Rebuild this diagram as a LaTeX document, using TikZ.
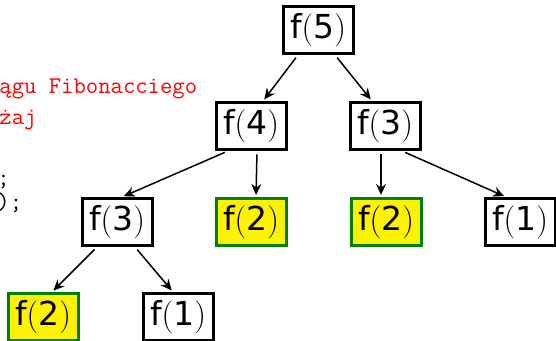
\documentclass[tikz,border=0pt]{standalone}
\usepackage{fontspec}
\newfontfamily\dv{DejaVu Sans}
\usetikzlibrary{arrows.meta}
\definecolor{fgreen}{RGB}{0,128,0}
\newcommand\fc[1]{{\dv f}({\dv #1})}
\begin{document}
\begin{tikzpicture}[x=0.5pt,y=-0.5pt,
  call/.style={draw=black, line width=1.5pt, minimum width=35pt, minimum height=23.5pt, inner sep=0pt, font=\fontsize{16.5}{20}\selectfont},
  basecase/.style={call, draw=fgreen, fill=yellow},
  arr/.style={-{Stealth[length=5.5pt,width=5pt]}, line width=0.75pt, shorten <=1.75pt, shorten >=1pt},
  code/.style={anchor=base west, inner sep=0pt, font=\fontsize{12}{14}\selectfont\ttfamily}]
\useasboundingbox (0,0) rectangle (556,341);
% code fragments
\node[code, text=red] (c1) at (-1,94) {ągu Fibonacciego};
\node[code, text=red] (c2) at (-1,125) {żaj};
\node[code] (c3) at (-3,186) {;};
\node[code] (c4) at (-3,210) {);};
% tree
\node[call] (f5) at (318,30) {\fc{5}};
\node[call] (f4) at (251,126) {\fc{4}};
\node[call] (f3r) at (385,126) {\fc{3}};
\node[basecase] (f2m) at (251,222) {\fc{2}};
\node[basecase] (f2r) at (386,222) {\fc{2}};
\node[call] (f1r) at (520,222) {\fc{1}};
\node[call] (f3l) at (117,222) {\fc{3}};
\node[basecase] (f2b) at (43,317) {\fc{2}};
\node[call] (f1b) at (178,317) {\fc{1}};
% arrows
\draw[arr] ([xshift=-10pt]f5.south) -- ([xshift=6pt]f4.north);
\draw[arr] ([xshift=8.5pt]f5.south) -- ([xshift=-6.5pt]f3r.north);
\draw[arr] ([xshift=-11.5pt]f4.south) -- ([xshift=2.5pt]f3l.north);
\draw[arr] ([xshift=3pt]f4.south) -- ([xshift=2.5pt]f2m.north);
\draw[arr] ([xshift=-2pt]f3r.south) -- ([xshift=-2.5pt]f2r.north);
\draw[arr] ([xshift=8.5pt]f3r.south) -- ([xshift=-7pt]f1r.north);
\draw[arr] ([xshift=-10pt]f3l.south) -- ([xshift=4.5pt]f2b.north);
\draw[arr] ([xshift=9pt]f3l.south) -- ([xshift=-2.5pt]f1b.north);
\end{tikzpicture}
\end{document}
